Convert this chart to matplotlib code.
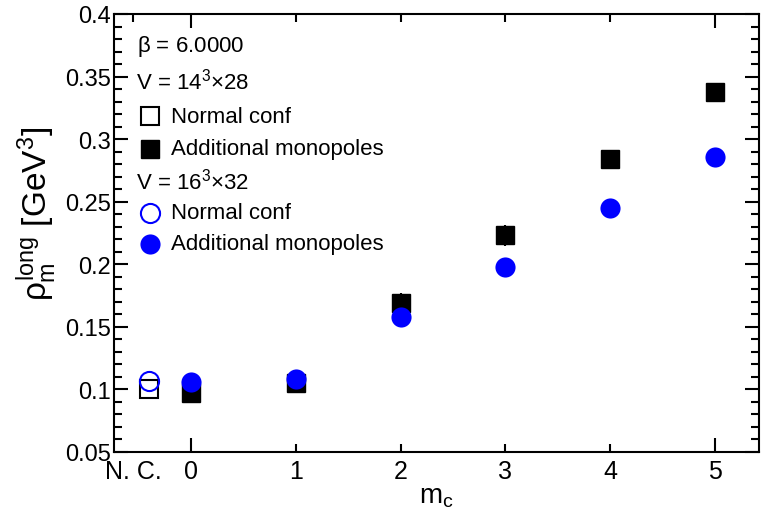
import numpy as np
import matplotlib
matplotlib.use("Agg")
import matplotlib.pyplot as plt

plt.rcParams['font.family'] = ['Liberation Sans', 'DejaVu Sans']
plt.rcParams['mathtext.fontset'] = 'custom'
plt.rcParams['mathtext.rm'] = 'Liberation Sans'
plt.rcParams['mathtext.it'] = 'Liberation Sans'

# m_c values
mc = [0, 1, 2, 3, 4, 5]
# V = 14^3 x 28, additional monopoles
rho_14 = [0.097, 0.105, 0.169, 0.223, 0.284, 0.338]
err_14 = [0.003, 0.006, 0.008, 0.008, 0.007, 0.003]
# V = 16^3 x 32, additional monopoles
rho_16 = [0.106, 0.108, 0.158, 0.198, 0.245, 0.286]
# normal configurations (N. C.)
nc_x = -0.4
nc_14 = 0.1005
nc_16 = 0.1065

fig = plt.figure(figsize=(7.61, 5.10), dpi=100)
ax = fig.add_axes([0.1498, 0.1118, 0.8476, 0.8588])

ms_sq = 13
ms_ci = 14.5

ax.errorbar(mc, rho_14, yerr=err_14, fmt='s', color='black', ms=ms_sq,
            elinewidth=1.5, capsize=0, zorder=3)
ax.plot(mc, rho_16, 'o', color='blue', ms=ms_ci, mec='none', zorder=4)
ax.plot([nc_x], [nc_14], 's', mfc='white', mec='black', mew=1.5, ms=ms_sq * 0.95, zorder=3)
ax.plot([nc_x], [nc_16], 'o', mfc='none', mec='blue', mew=1.5, ms=ms_ci * 0.95, zorder=4)

ax.set_xlim(-0.735, 5.42)
ax.set_ylim(0.05, 0.4)

# x ticks: long at 0 and 5, short in between
ax.set_xticks([0, 5], labels=['0', '5'])
ax.set_xticks([-0.55, 1, 2, 3, 4], labels=['N. C.', '1', '2', '3', '4'], minor=True)
ax.xaxis.get_minor_ticks()[0].tick1line.set_visible(False)
ax.xaxis.get_minor_ticks()[0].tick2line.set_visible(False)

ax.set_yticks(np.arange(0.05, 0.401, 0.05), labels=['0.05', '0.1', '0.15', '0.2', '0.25', '0.3', '0.35', '0.4'])
ax.set_yticks(np.arange(0.05, 0.401, 0.01), minor=True)

ax.tick_params(which='both', direction='in', top=True, right=True, width=1.5)
ax.tick_params(which='major', length=10)
ax.tick_params(which='minor', length=5.5)
ax.tick_params(axis='x', which='both', pad=5, labelsize=18)
ax.tick_params(axis='y', which='both', pad=2, labelsize=17)
for s in ax.spines.values():
    s.set_linewidth(1.5)

ax.set_xlabel(r'm$_\mathregular{c}$', fontsize=20)
ax.xaxis.set_label_coords(0.5, -0.07)
ax.set_ylabel(r'$\rho_\mathregular{m}^\mathregular{long}$ [GeV$^\mathregular{3}$]', fontsize=24)
ax.yaxis.set_label_coords(-0.086, 0.545)

# legend drawn by hand
tr = ax.transAxes
fs = 16
ax.text(0.036, 0.929, r'$\beta$ = 6.0000', transform=tr, fontsize=fs, va='center')
ax.text(0.034, 0.847, r'V = 14$^\mathregular{3}$$\times$28', transform=tr, fontsize=fs, va='center')
ax.plot([0.056], [0.767], 's', transform=tr, mfc='white', mec='black', mew=1.5, ms=ms_sq * 0.95)
ax.text(0.088, 0.767, 'Normal conf', transform=tr, fontsize=fs, va='center')
ax.plot([0.056], [0.692], 's', transform=tr, color='black', ms=ms_sq)
ax.text(0.088, 0.692, 'Additional monopoles', transform=tr, fontsize=fs, va='center')
ax.text(0.034, 0.619, r'V = 16$^\mathregular{3}$$\times$32', transform=tr, fontsize=fs, va='center')
ax.plot([0.056], [0.546], 'o', transform=tr, mfc='none', mec='blue', mew=1.5, ms=ms_ci * 0.95)
ax.text(0.088, 0.546, 'Normal conf', transform=tr, fontsize=fs, va='center')
ax.plot([0.056], [0.475], 'o', transform=tr, color='blue', mec='none', ms=ms_ci)
ax.text(0.088, 0.475, 'Additional monopoles', transform=tr, fontsize=fs, va='center')

fig.savefig('out.png', dpi=100)
